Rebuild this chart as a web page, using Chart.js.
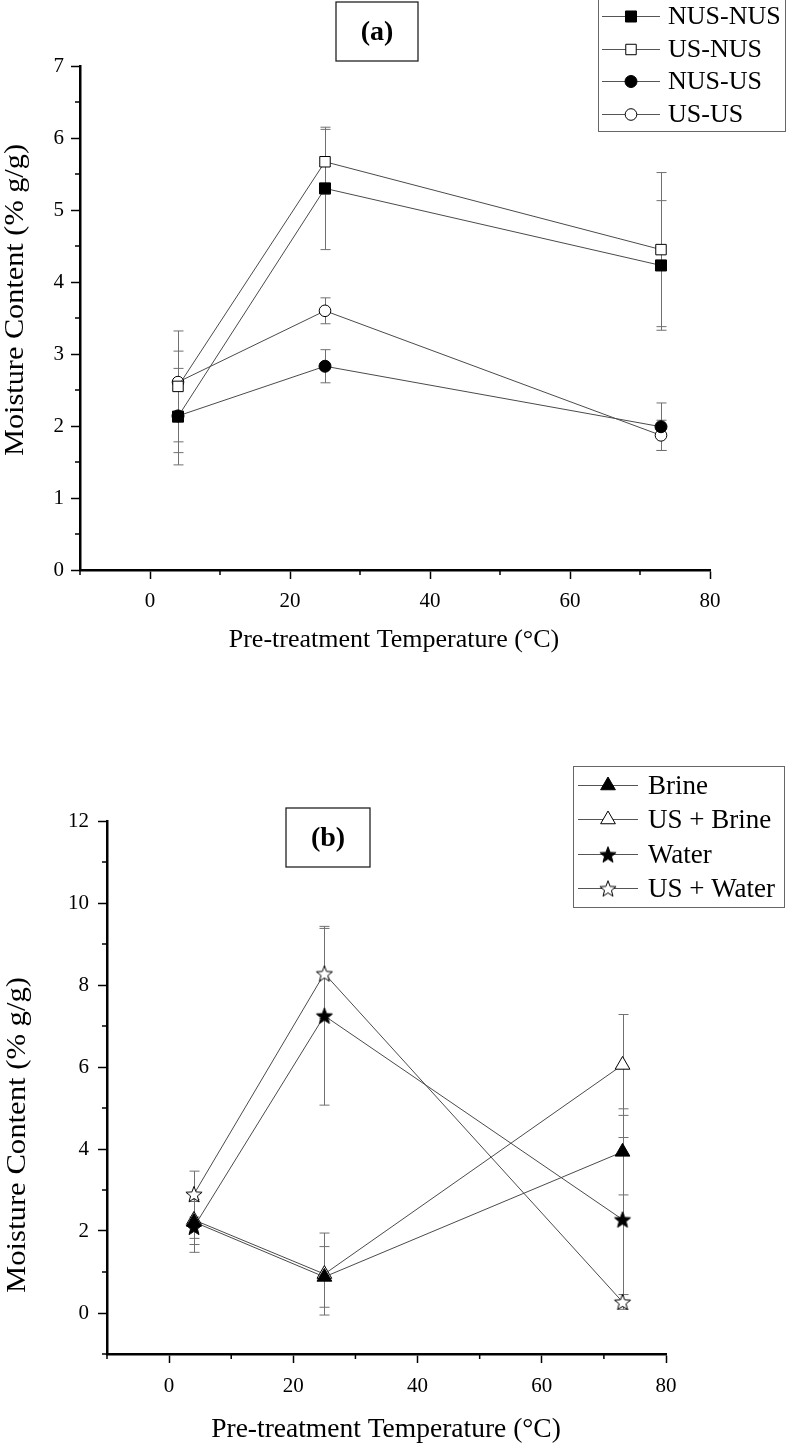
<!DOCTYPE html>
<html>
<head>
<meta charset="utf-8">
<script src="https://cdn.jsdelivr.net/npm/chart.js@4.4.0/dist/chart.umd.min.js"></script>
<style>
    body { margin: 0; background: #fff; width: 787px; height: 1446px; overflow: hidden; position: relative; }
    .panel { position: absolute; left: 0; width: 787px; }
    #wrapA { top: 0; height: 720px; }
    #wrapB { top: 720px; height: 726px; }
</style>
</head>
<body>

<div class="panel" id="wrapA"><canvas id="chartA" width="787" height="720"></canvas></div>
<div class="panel" id="wrapB"><canvas id="chartB" width="787" height="726"></canvas></div>

<script>

// =========================================
// Data
// =========================================

const temps = [4, 25, 73];

// panel (a)
const nusNus = [2.13, 5.30, 4.23];
const nusNusErr = [0.67, 0.85, 0.90];
const usNus = [2.55, 5.67, 4.45];
const usNusErr = [0.77, 0.45, 1.07];
const nusUs = [2.14, 2.83, 1.99];
const nusUsErr = [0.51, 0.23, 0.33];
const usUs = [2.61, 3.60, 1.87];
const usUsErr = [0.43, 0.18, 0.21];

// panel (b)
const brine = [2.22, 0.88, 3.93];
const brineErr = [0.55, 0.74, 1.05];
const usBrine = [2.27, 0.95, 6.05];
const usBrineErr = [0.45, 1.00, 1.23];
const water = [2.10, 7.25, 2.28];
const waterErr = [0.62, 2.18, 2.00];
const usWater = [2.90, 8.28, 0.27];
const usWaterErr = [0.56, 1.10, 0.18];

// ticks
const xMajor = [0, 20, 40, 60, 80];
const xMinor = [-10, 10, 30, 50, 70];
const aMajor = [0, 1, 2, 3, 4, 5, 6, 7];
const aMinor = [0.5, 1.5, 2.5, 3.5, 4.5, 5.5, 6.5];
const bMajor = [0, 2, 4, 6, 8, 10, 12];
const bMinor = [-1, 1, 3, 5, 7, 9, 11];

const FONT = "'Liberation Serif', 'Times New Roman', serif";

Chart.defaults.font.family = FONT;
Chart.defaults.color = "#000";


// =========================================
// Star markers
// =========================================

function makeStar(fill) {

    const c = document.createElement("canvas");
    c.width = 20;
    c.height = 20;

    const g = c.getContext("2d");

    g.beginPath();

    for (let i = 0; i < 10; i++) {
        const r = i % 2 === 0 ? 8.5 : 3.6;
        const a = -Math.PI / 2 + i * Math.PI / 5;
        g.lineTo(10 + r * Math.cos(a), 10.8 + r * Math.sin(a));
    }

    g.closePath();
    g.fillStyle = fill;
    g.fill();
    g.strokeStyle = "#000";
    g.lineWidth = 1;
    g.stroke();

    return c;

}

const starFilled = makeStar("#000");
const starOpen = makeStar("#fff");


// =========================================
// Plugins
// =========================================

const errorBars = {

    id: "errorBars",

    beforeDatasetsDraw(chart) {

        const { ctx, scales: { x, y } } = chart;

        ctx.save();
        ctx.strokeStyle = "#707070";
        ctx.lineWidth = 1;

        chart.data.datasets.forEach(ds => {

            ds.data.forEach((pt, i) => {

                const e = ds.errors[i];
                const px = Math.round(x.getPixelForValue(pt.x)) + 0.5;
                const top = y.getPixelForValue(pt.y + e);
                const bot = y.getPixelForValue(pt.y - e);

                ctx.beginPath();
                ctx.moveTo(px, top);
                ctx.lineTo(px, bot);
                ctx.moveTo(px - 5, top);
                ctx.lineTo(px + 5, top);
                ctx.moveTo(px - 5, bot);
                ctx.lineTo(px + 5, bot);
                ctx.stroke();

            });

        });

        ctx.restore();

    }

};

const minorTicks = {

    id: "minorTicks",

    afterDraw(chart, args, opts) {

        const { ctx, scales: { x, y } } = chart;

        ctx.save();
        ctx.strokeStyle = "#000";
        ctx.lineWidth = 1.5;
        ctx.beginPath();

        opts.x.forEach(v => {
            const px = x.getPixelForValue(v);
            ctx.moveTo(px, x.top);
            ctx.lineTo(px, x.top + 5);
        });

        opts.y.forEach(v => {
            const py = y.getPixelForValue(v);
            ctx.moveTo(y.right, py);
            ctx.lineTo(y.right - 5, py);
        });

        ctx.stroke();
        ctx.restore();

    }

};

const panelText = {

    id: "panelText",

    afterDraw(chart, args, o) {

        const ctx = chart.ctx;

        ctx.save();
        ctx.fillStyle = "#000";
        ctx.textAlign = "center";
        ctx.textBaseline = "middle";

        // x title
        ctx.font = o.xFont + "px " + FONT;
        ctx.fillText(o.xTitle, o.xTitleX, o.xTitleY);

        // panel label box
        ctx.strokeStyle = "#222";
        ctx.lineWidth = 1.3;
        ctx.strokeRect(o.box[0], o.box[1], o.box[2], o.box[3]);
        ctx.font = "bold " + o.boxFont + "px " + FONT;
        ctx.fillText(o.boxText, o.box[0] + o.box[2] / 2, o.box[1] + o.box[3] / 2 + 1);

        // y title
        ctx.font = o.yFont + "px " + FONT;
        ctx.translate(o.yTitleX, o.yTitleY);
        ctx.rotate(-Math.PI / 2);
        const w = ctx.measureText(o.yTitle).width;
        ctx.scale(o.yTitleLen / w, 1);
        ctx.fillText(o.yTitle, 0, 0);

        ctx.restore();

    }

};

const boxLegend = {

    id: "boxLegend",

    afterDraw(chart, args, o) {

        const ctx = chart.ctx;

        ctx.save();
        ctx.strokeStyle = "#666";
        ctx.lineWidth = 1;
        ctx.strokeRect(o.box[0] + 0.5, o.box[1] + 0.5, o.box[2], o.box[3]);

        ctx.font = o.font + "px " + FONT;
        ctx.textAlign = "left";
        ctx.textBaseline = "middle";

        chart.data.datasets.forEach((ds, i) => {

            const cy = Math.round(o.y0 + i * o.gap) + 0.5;

            ctx.strokeStyle = "#555";
            ctx.lineWidth = 1;
            ctx.beginPath();
            ctx.moveTo(o.line[0], cy);
            ctx.lineTo(o.line[1], cy);
            ctx.stroke();

            ctx.fillStyle = ds.pointBackgroundColor;
            ctx.strokeStyle = "#000";
            Chart.helpers.drawPoint(ctx, {
                pointStyle: ds.pointStyle,
                radius: ds.pointRadius,
                borderWidth: 1,
                rotation: 0
            }, (o.line[0] + o.line[1]) / 2, cy);

            ctx.fillStyle = "#000";
            ctx.fillText(ds.label, o.textX, cy + 1);

        });

        ctx.restore();

    }

};


// =========================================
// Helpers
// =========================================

function points(vals) {

    return temps.map((t, i) => ({ x: t, y: vals[i] }));

}

function series(label, vals, errs, style, radius, filled) {

    return {
        label: label,
        data: points(vals),
        errors: errs,
        showLine: true,
        borderColor: "#4a4a4a",
        borderWidth: 1,
        pointStyle: style,
        pointRadius: radius,
        pointHoverRadius: radius,
        pointBackgroundColor: filled ? "#000" : "#fff",
        pointBorderColor: "#000",
        pointBorderWidth: 1
    };

}

function axis(min, max, major, minor, size, labelPad, fontSize) {

    const all = major.concat(minor).sort((a, b) => a - b);

    return {
        type: "linear",
        min: min,
        max: max,
        afterBuildTicks: s => { s.ticks = all.map(v => ({ value: v })); },
        afterFit: s => {
            if (s.isHorizontal()) { s.height = size; } else { s.width = size; }
        },
        ticks: {
            autoSkip: false,
            maxRotation: 0,
            padding: labelPad,
            color: "#000",
            font: { size: fontSize },
            callback: v => major.includes(v) ? String(v) : ""
        },
        grid: {
            drawOnChartArea: false,
            drawTicks: true,
            tickLength: 9,
            tickWidth: 1.5,
            tickColor: c => major.includes(c.tick.value) ? "#000" : "rgba(0,0,0,0)"
        },
        border: { color: "#000", width: 2.5 }
    };

}


// =========================================
// Panel (a)
// =========================================

new Chart(document.getElementById("chartA"), {

    type: "scatter",

    data: {
        datasets: [
            series("NUS-NUS", nusNus, nusNusErr, "rect", 7.8, true),
            series("US-NUS", usNus, usNusErr, "rect", 7.4, false),
            series("NUS-US", nusUs, nusUsErr, "circle", 6, true),
            series("US-US", usUs, usUsErr, "circle", 5.8, false)
        ]
    },

    options: {
        responsive: false,
        animation: false,
        layout: { padding: { top: 66, right: 77, left: 0, bottom: 0 } },
        scales: {
            x: axis(-10, 80, xMajor, xMinor, 150, 10, 21),
            y: axis(0, 7, aMajor, aMinor, 80, 7, 21)
        },
        plugins: {
            legend: { display: false },
            tooltip: { enabled: false },
            minorTicks: { x: xMinor, y: aMinor },
            panelText: {
                xTitle: "Pre-treatment Temperature (\u00B0C)",
                xTitleX: 394, xTitleY: 640, xFont: 26,
                yTitle: "Moisture Content (% g/g)",
                yTitleX: 16, yTitleY: 300, yFont: 27, yTitleLen: 312,
                box: [336, 2, 82, 59], boxText: "(a)", boxFont: 28
            },
            boxLegend: {
                box: [598, -1, 187, 132],
                y0: 16, gap: 32.7,
                line: [602, 660], textX: 668, font: 26
            }
        }
    },

    plugins: [errorBars, minorTicks, panelText, boxLegend]

});


// =========================================
// Panel (b)
// =========================================

new Chart(document.getElementById("chartB"), {

    type: "scatter",

    data: {
        datasets: [
            series("Brine", brine, brineErr, "triangle", 8.5, true),
            series("US + Brine", usBrine, usBrineErr, "triangle", 8.5, false),
            series("Water", water, waterErr, starFilled, 8, true),
            series("US + Water", usWater, usWaterErr, starOpen, 8, false)
        ]
    },

    options: {
        responsive: false,
        animation: false,
        layout: { padding: { top: 101, right: 121, left: 0, bottom: 0 } },
        scales: {
            x: axis(-10, 80, xMajor, xMinor, 92, 11, 21),
            y: axis(-1, 12, bMajor, bMinor, 107, 9, 21)
        },
        plugins: {
            legend: { display: false },
            tooltip: { enabled: false },
            minorTicks: { x: xMinor, y: bMinor },
            panelText: {
                xTitle: "Pre-treatment Temperature (\u00B0C)",
                xTitleX: 386, xTitleY: 710, xFont: 27.5,
                yTitle: "Moisture Content (% g/g)",
                yTitleX: 18, yTitleY: 415, yFont: 27, yTitleLen: 316,
                box: [286, 88, 84, 59], boxText: "(b)", boxFont: 28
            },
            boxLegend: {
                box: [573, 46, 211, 141],
                y0: 65, gap: 34.3,
                line: [578, 638], textX: 648, font: 27
            }
        }
    },

    plugins: [errorBars, minorTicks, panelText, boxLegend]

});

</script>
</body>
</html>
